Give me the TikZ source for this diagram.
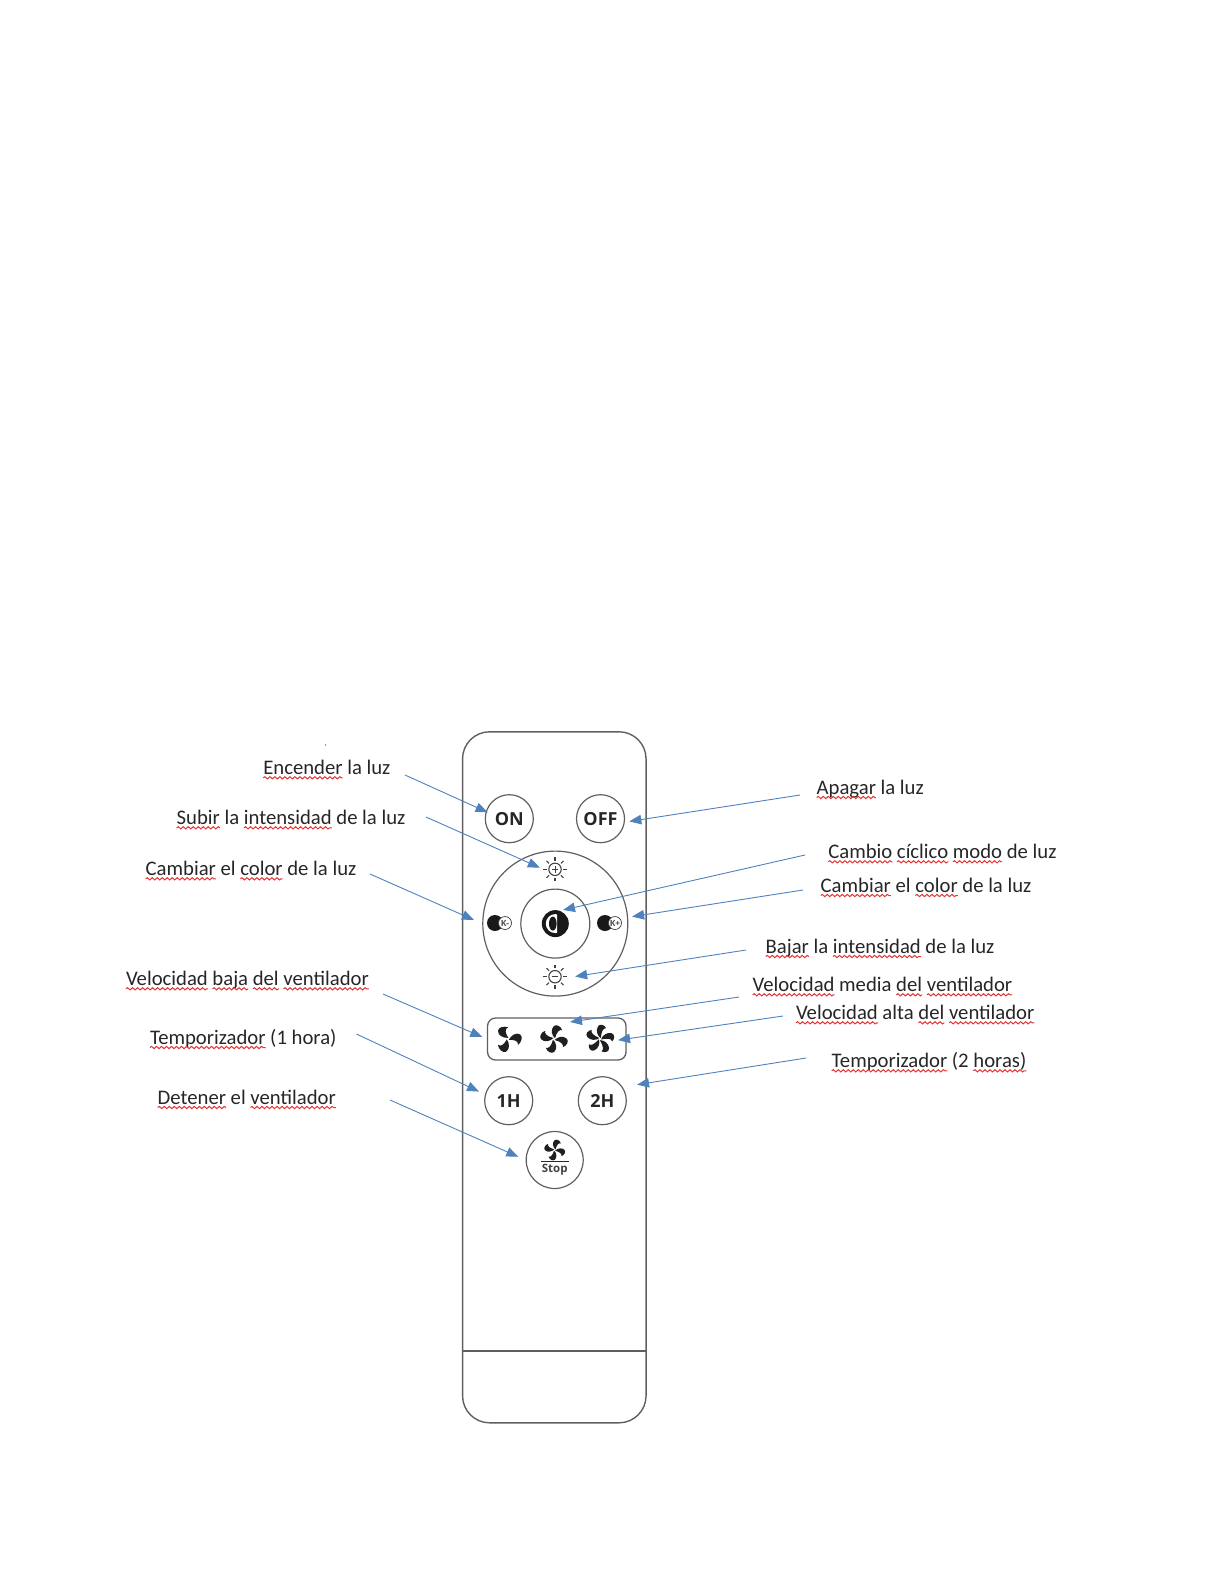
\documentclass[tikz,border=0pt]{standalone}
\usepackage{fontspec}
\setmainfont{Carlito}
\newfontfamily\btnfont{Open Sans}
\usetikzlibrary{arrows.meta,decorations.pathmorphing}
\definecolor{arrowblue}{HTML}{4F81BD}
\definecolor{linegray}{HTML}{5F5F5F}
\definecolor{inktext}{HTML}{262626}
\definecolor{squig}{HTML}{E43333}
\newcommand\lblfont{\fontsize{20.7}{24}\selectfont}
\newlength\sqa \newlength\sqb
\tikzset{
  lbl/.style={anchor=base west,inner sep=0pt,outer sep=0pt,text=inktext,font=\lblfont,yshift=-1.6pt},
  arr/.style={draw=arrowblue,line width=0.9pt,-{Triangle[length=12pt,width=9.5pt,fill=arrowblue]}},
  btn/.style={circle,draw=linegray,line width=1.2pt,inner sep=0pt,text=black!85,font=\btnfont\bfseries\fontsize{18}{20}\selectfont},
  hub/.style={circle,inner sep=0pt,minimum size=#1},
  ray/.style={draw=black!75,line width=1.1pt},
  squiggle/.style={draw=squig,line width=1pt,decorate,decoration={snake,amplitude=1.1pt,segment length=5pt}},
  kicon/.style={hub=13pt,fill=white,draw=black!75,line width=0.7pt,font=\btnfont\bfseries\fontsize{8.5}{9}\selectfont,text=black!70},
}
\newcommand\sqset[2]{\pgfinterruptpicture\settowidth#1{\lblfont #2}\global#1=#1\endpgfinterruptpicture}
% red wavy underline: #1 label node, #2 text before the word, #3 the word
\newcommand\sq[3]{%
  \sqset\sqa{#2}\sqset\sqb{#3}%
  \draw[squiggle] ([xshift=\sqa,yshift=-3.2pt]#1.base west) -- ++(\sqb,0);%
}
% fan icon: #1 node, #2 blades, #3 scale, #4 start angle, #5 blade thickness factor
\newcommand\fanicon[5]{%
  \foreach \a in {1,...,#2}{%
    \fill[black!88,shift={(#1)},rotate=#4+\a*360/#2,scale=#3,yscale=#5]
      (0.08,0.05) .. controls (0.15,-0.35) and (0.5,-0.72) .. (0.85,-0.6)
      .. controls (1.1,-0.5) and (1.12,-0.05) .. (0.9,0.25)
      .. controls (0.85,-0.05) and (0.55,-0.1) .. (0.08,0.05) -- cycle;
  }%
}
\newcommand\sunicon[1]{%
  \draw[ray] (#1) circle[radius=6.2pt];
  \foreach \a in {0,45,...,315}{\draw[ray,shift={(#1)}] (\a:8.4pt) -- (\a:12pt);}
  \draw[ray,line width=0.8pt,shift={(#1)}] (-3.2pt,0) -- (3.2pt,0);
}
\begin{document}
\begin{tikzpicture}[x=1pt,y=-1pt]
\useasboundingbox (0,0) rectangle (1224,1584);
% remote body
\node[draw=linegray,line width=1.4pt,rounded corners=27pt,minimum width=183.5pt,minimum height=691pt,inner sep=0pt] (remote) at (554.3,1077.3) {};
\coordinate (divL) at (462.5,1351);
\coordinate (divR) at (646,1351);
\draw[draw=linegray,line width=1.2pt] (divL) -- (divR);
% top buttons
\node[btn,minimum size=48pt] (on) at (509.3,818.7) {ON};
\node[btn,minimum size=48pt] (off) at (600.5,818.7) {OFF};
% wheel
\node[circle,draw=linegray,line width=1.2pt,minimum size=145pt,inner sep=0pt] (wheel) at (555.3,923.6) {};
\node[circle,draw=linegray,line width=1.2pt,minimum size=69pt,inner sep=0pt] (inner) at (555.3,923.6) {};
% centre icon
\node[hub=27pt,fill=black!90] (mode) at (555.3,923.6) {};
\begin{scope}
 \clip (545,911) rectangle (557,936);
 \fill[white] (mode.center) circle[radius=9.5pt];
\end{scope}
\fill[black!90] (552.8,923.6) ellipse[x radius=3.8pt,y radius=7pt];
% suns
\node[hub=30pt] (sunup) at (555,869.3) {};
\sunicon{sunup}
\draw[ray,line width=0.8pt,shift={(sunup)}] (0,-3.2pt) -- (0,3.2pt);
\node[hub=30pt] (sundown) at (555,976.7) {};
\sunicon{sundown}
% colour temperature icons
\node[hub=16pt,fill=black!90] (kminusdark) at (495,923) {};
\node[kicon] (kminus) at (505,923) {K-};
\node[hub=16pt,fill=black!90] (kplusdark) at (605,923) {};
\node[kicon] (kplus) at (615,923) {K+};
% fan box
\node[draw=linegray,line width=1.3pt,rounded corners=8pt,minimum width=138.5pt,minimum height=42pt,inner sep=0pt] (fanbox) at (556.8,1039) {};
\node[hub=26pt] (fanA) at (508,1039) {};
\node[hub=26pt] (fanB) at (554,1039) {};
\node[hub=26pt] (fanC) at (600,1039) {};
\fanicon{fanA}{3}{12.5pt}{-15}{1}
\fanicon{fanB}{4}{13pt}{-30}{0.85}
\fanicon{fanC}{5}{13.5pt}{0}{0.72}
% timers and stop
\node[btn,minimum size=48pt] (hA) at (508.7,1100.7) {1H};
\node[btn,minimum size=48pt] (hB) at (602.3,1100.7) {2H};
\node[btn,minimum size=57pt] (stop) at (554.7,1160) {};
\node[hub=20pt] (stopfan) at (554.7,1150) {};
\fanicon{stopfan}{4}{9.8pt}{-30}{0.85}
\coordinate (stopL) at (540.7,1161.2);
\coordinate (stopR) at (569.3,1161.2);
\draw[black!85,line width=1pt] (stopL) -- (stopR);
\node[inner sep=0pt,font=\btnfont\bfseries\fontsize{11.5}{12}\selectfont,text=black!75,anchor=base] (stoplabel) at (554.7,1172.8) {Stop};
% labels
\node[lbl] (tEnc) at (263.3,773) {Encender la luz};
\sq{tEnc}{}{Encender}
\node[lbl] (tSub) at (176.7,823) {Subir la intensidad de la luz};
\sq{tSub}{}{Subir}\sq{tSub}{Subir la }{intensidad}
\node[lbl] (tCamL) at (145.7,874) {Cambiar el color de la luz};
\sq{tCamL}{}{Cambiar}\sq{tCamL}{Cambiar el }{color}
\node[lbl] (tBaj) at (126,984) {Velocidad baja del ventilador};
\sq{tBaj}{}{Velocidad}\sq{tBaj}{Velocidad }{baja}\sq{tBaj}{Velocidad baja }{del}\sq{tBaj}{Velocidad baja del }{ventilador}
\node[lbl] (tT1) at (150,1042.7) {Temporizador (1 hora)};
\sq{tT1}{}{Temporizador}
\node[lbl] (tDet) at (157.7,1102.7) {Detener el ventilador};
\sq{tDet}{}{Detener}\sq{tDet}{Detener el }{ventilador}
\node[lbl] (tApa) at (816.7,792.7) {Apagar la luz};
\sq{tApa}{}{Apagar}
\node[lbl] (tCic) at (828.3,857) {Cambio cíclico modo de luz};
\sq{tCic}{}{Cambio}\sq{tCic}{Cambio }{cíclico}\sq{tCic}{Cambio cíclico }{modo}
\node[lbl] (tCamR) at (820.7,890.7) {Cambiar el color de la luz};
\sq{tCamR}{}{Cambiar}\sq{tCamR}{Cambiar el }{color}
\node[lbl] (tBja) at (765.7,951.7) {Bajar la intensidad de la luz};
\sq{tBja}{}{Bajar}\sq{tBja}{Bajar la }{intensidad}
\node[lbl] (tMed) at (752.7,990) {Velocidad media del ventilador};
\sq{tMed}{}{Velocidad}\sq{tMed}{Velocidad media }{del}\sq{tMed}{Velocidad media del }{ventilador}
\node[lbl] (tAlt) at (796,1018) {Velocidad alta del ventilador};
\sq{tAlt}{}{Velocidad}\sq{tAlt}{Velocidad alta }{del}\sq{tAlt}{Velocidad alta del }{ventilador}
\node[lbl] (tT2) at (831.7,1066) {Temporizador (2 horas)};
\sq{tT2}{}{Temporizador}\sq{tT2}{Temporizador (2 }{horas)}
\fill[black!80] (325.5,745) circle[radius=0.7pt];
% connector free ends
\coordinate (sEnc) at (405,775);
\coordinate (sSub) at (426,817);
\coordinate (sCamL) at (370,874);
\coordinate (sBaj) at (383,994);
\coordinate (sT1) at (356.5,1034);
\coordinate (sDet) at (390,1100);
\coordinate (sApa) at (800,795);
\coordinate (sCic) at (805,855);
\coordinate (sCamR) at (803,890);
\coordinate (sBja) at (746,950);
\coordinate (sMed) at (739,997);
\coordinate (sAlt) at (783,1016);
\coordinate (sT2) at (806,1058);
\coordinate (eCic) at (563,910);
\coordinate (eMed) at (570,1022);
% connectors
\draw[arr,shorten >=-2pt] (sEnc) -- (on.163);
\draw[arr] (sSub) -- (sunup.174);
\draw[arr,shorten >=9pt] (sCamL) -- (wheel.west);
\draw[arr,shorten >=5pt] (sBaj) -- (fanbox.west);
\draw[arr,shorten >=6.5pt] (sT1) -- (hA.165);
\draw[arr,shorten >=8pt] (sDet) -- (stop.west);
\draw[arr,shorten >=4.5pt] (sApa) -- (off.-8);
\draw[arr] (sCic) -- (eCic);
\draw[arr,shorten >=4pt] (sCamR) -- (wheel.5);
\draw[arr,shorten >=5pt] (sBja) -- (sundown.-2);
\draw[arr] (sMed) -- (eMed);
\draw[arr,shorten >=5pt] (sAlt) -- (fanC.-8);
\draw[arr,shorten >=14.5pt] (sT2) -- (hB.34);
\end{tikzpicture}
\end{document}
